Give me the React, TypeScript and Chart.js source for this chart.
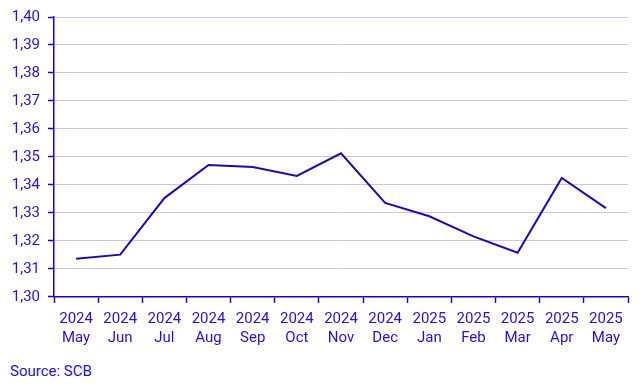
import React, { useEffect, useRef } from "react";
import { Chart, registerables } from "chart.js";

Chart.register(...registerables);

const years = ["2024", "2024", "2024", "2024", "2024", "2024", "2024", "2024", "2025", "2025", "2025", "2025", "2025"];
const months = ["May", "Jun", "Jul", "Aug", "Sep", "Oct", "Nov", "Dec", "Jan", "Feb", "Mar", "Apr", "May"];
const values = [1.3136, 1.3151, 1.3353, 1.3471, 1.3464, 1.3432, 1.3513, 1.3336, 1.3288, 1.3216, 1.3158, 1.3425, 1.3317];
const yTicks = [1.3, 1.31, 1.32, 1.33, 1.34, 1.35, 1.36, 1.37, 1.38, 1.39, 1.4];

const TEXT = "#2612c4";
const AXIS = "#1a00cc";
const LINE = "#2208a8";
const GRID = "#c9c6ee";

export default function App() {
  const ref = useRef<HTMLCanvasElement>(null);
  useEffect(() => {
    const labels = years.map((y, i) => [y, months[i]]);
    const chart = new Chart(ref.current!, {
      type: "line",
      data: {
        labels,
        datasets: [
          {
            data: values,
            borderColor: LINE,
            borderWidth: 2,
            pointRadius: 0,
            tension: 0,
            fill: false,
          },
        ],
      },
      options: {
        animation: false,
        responsive: false,
        maintainAspectRatio: false,
        layout: { padding: { top: 9, right: 15, left: 0, bottom: 0 } },
        plugins: { legend: { display: false }, tooltip: { enabled: false } },
        scales: {
          x: {
            offset: true,
            grid: {
              offset: true,
              drawOnChartArea: false,
              drawTicks: true,
              tickLength: 6,
              tickColor: AXIS,
              tickWidth: 1.5,
            },
            border: { color: AXIS, width: 1.5 },
            ticks: {
              color: TEXT,
              font: { family: "Roboto", size: 15, lineHeight: 1.27 },
              padding: 7,
              maxRotation: 0,
              autoSkip: false,
            },
          },
          y: {
            min: 1.3,
            max: 1.4,
            afterFit: (s: any) => {
              s.width = 54;
            },
            afterBuildTicks: (s: any) => {
              s.ticks = yTicks.map((v) => ({ value: v }));
            },
            grid: {
              color: GRID,
              drawTicks: true,
              tickLength: 6,
              tickColor: AXIS,
              tickWidth: 1.5,
            },
            border: { color: AXIS, width: 1.5 },
            ticks: {
              color: TEXT,
              font: { family: "Roboto", size: 15 },
              padding: 8,
              callback: (v: any) => Number(v).toFixed(2).replace(".", ","),
            },
          },
        },
      },
    });
    return () => chart.destroy();
  }, []);
  return (
    <div style={{ position: "absolute", left: 0, top: 0, width: 643, height: 386, background: "#fff" }}>
      <canvas ref={ref} width={643} height={355} style={{ position: "absolute", left: 0, top: 0 }} />
      <div
        style={{
          position: "absolute",
          left: 10,
          top: 362,
          fontFamily: "Roboto",
          fontSize: 15,
          color: TEXT,
          lineHeight: "18px",
        }}
      >
        Source: SCB
      </div>
    </div>
  );
}
